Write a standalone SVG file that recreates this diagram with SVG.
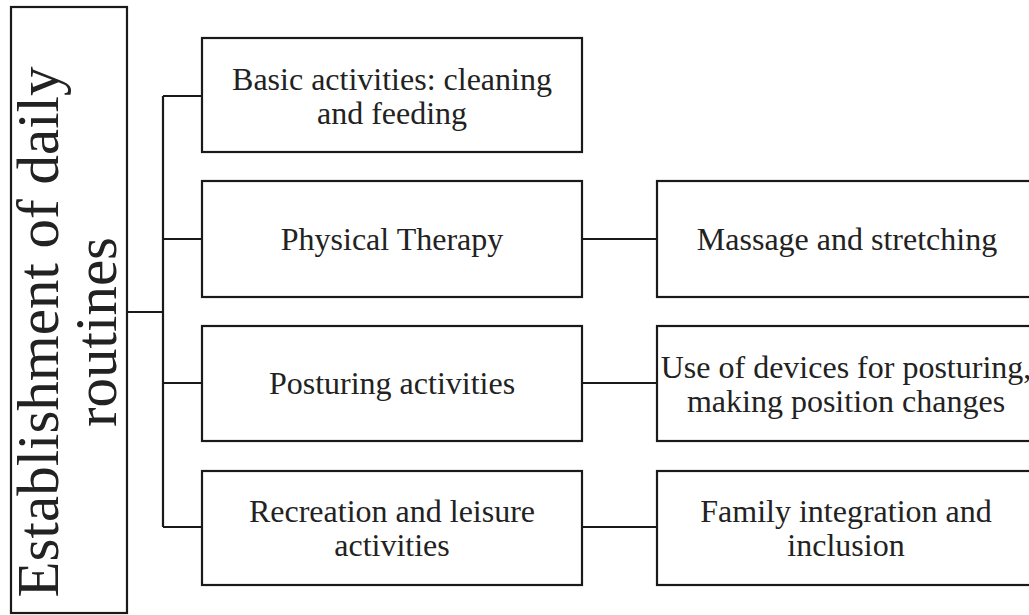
<svg xmlns="http://www.w3.org/2000/svg" width="1029" height="615" viewBox="0 0 1029 615">
<style>
.box{fill:#fff;stroke:#1a1a1a;stroke-width:2.2}
.ln{fill:none;stroke:#1a1a1a;stroke-width:2.2}
.t{font-family:'Liberation Serif','DejaVu Serif',serif;font-size:32px;fill:#222;text-anchor:middle}
.tv{font-family:'Liberation Serif','DejaVu Serif',serif;font-size:59px;fill:#222;text-anchor:middle}
</style>
<rect width="1029" height="615" fill="#fff"/>
<g id="connectors">
<path class="ln" d="M127 312H163M163 96V527M163 96H202M163 239H202M163 383H202M163 527H202"/>
<path class="ln" d="M582 239H657M582 383H657M582 527H657"/>
</g>
<g id="root">
<rect class="box" x="11" y="7" width="116" height="606"/>
<text class="tv" transform="translate(58,332) rotate(-90)">Establishment of daily</text>
<text class="tv" transform="translate(116,332) rotate(-90)">routines</text>
</g>
<g id="basic">
<rect class="box" x="202" y="38" width="380" height="114"/>
<text class="t" x="392" y="90">Basic activities: cleaning</text>
<text class="t" x="392" y="124">and feeding</text>
</g>
<g id="physical">
<rect class="box" x="202" y="181" width="380" height="116"/>
<text class="t" x="392" y="250">Physical Therapy</text>
</g>
<g id="posturing">
<rect class="box" x="202" y="326" width="380" height="115"/>
<text class="t" x="392" y="394">Posturing activities</text>
</g>
<g id="recreation">
<rect class="box" x="202" y="471" width="380" height="114"/>
<text class="t" x="392" y="522">Recreation and leisure</text>
<text class="t" x="392" y="556">activities</text>
</g>
<g id="massage">
<rect class="box" x="657" y="181" width="380" height="116"/>
<text class="t" x="847" y="250">Massage and stretching</text>
</g>
<g id="devices">
<rect class="box" x="657" y="326" width="380" height="115"/>
<text class="t" x="846" y="378">Use of devices for posturing,</text>
<text class="t" x="846" y="412">making position changes</text>
</g>
<g id="family">
<rect class="box" x="657" y="471" width="380" height="114"/>
<text class="t" x="846" y="522">Family integration and</text>
<text class="t" x="846" y="556">inclusion</text>
</g>
</svg>
